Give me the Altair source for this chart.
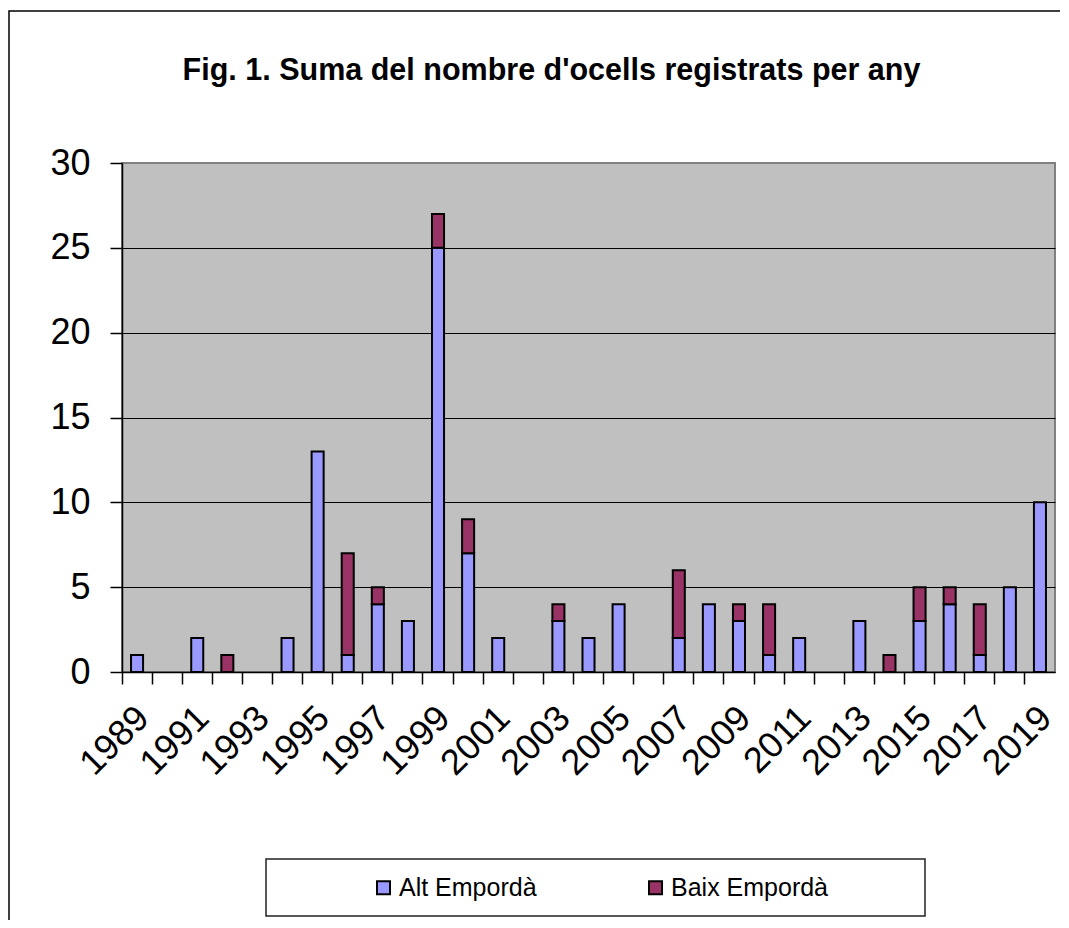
import altair as alt
import pandas as pd

years = ["1989", "1990", "1991", "1992", "1993", "1994", "1995", "1996", "1997", "1998",
         "1999", "2000", "2001", "2002", "2003", "2004", "2005", "2006", "2007", "2008",
         "2009", "2010", "2011", "2012", "2013", "2014", "2015", "2016", "2017", "2018", "2019"]
alt_emporda = [1, 0, 2, 0, 0, 2, 13, 1, 4, 3, 25, 7, 2, 0, 3, 2, 4, 0, 2, 4, 3, 1, 2, 0, 3, 0, 3, 4, 1, 5, 10]
baix_emporda = [0, 0, 0, 1, 0, 0, 0, 6, 1, 0, 2, 2, 0, 0, 1, 0, 0, 0, 4, 0, 1, 3, 0, 0, 0, 1, 2, 1, 3, 0, 0]
series_names = ["Alt Empordà", "Baix Empordà"]
series_colors = ["#9999FF", "#993366"]
title_text = "Fig. 1. Suma del nombre d'ocells registrats per any"

rows = []
for i, y in enumerate(years):
    for k, vals in enumerate([alt_emporda, baix_emporda]):
        if vals[i] > 0:
            rows.append({"year": y, "series": series_names[k], "value": vals[i], "ord": k})
df = pd.DataFrame(rows)

FONT = "Liberation Sans"

bars = alt.Chart(df).mark_bar(
    stroke="black", strokeWidth=2, width=alt.RelativeBandSize(0.4)
).encode(
    x=alt.X("year:O", sort=years,
            scale=alt.Scale(domain=years, paddingInner=0, paddingOuter=0),
            axis=alt.Axis(title=None, bandPosition=0, labelAngle=-45,
                          labelAlign="right", labelBaseline="middle",
                          labelFontSize=36, labelFont=FONT, labelColor="black",
                          labelOffset=6, labelPadding=28,
                          labelExpr="toNumber(datum.value) % 2 == 1 ? datum.label : ''",
                          labelOverlap=False,
                          tickSize=12, tickColor="black", tickWidth=1.5,
                          domainColor="black", domainWidth=1.5, grid=False)),
    y=alt.Y("value:Q", stack="zero",
            scale=alt.Scale(domain=[0, 30], nice=False),
            axis=alt.Axis(title=None, values=[0, 5, 10, 15, 20, 25, 30],
                          labelFontSize=36, labelFont=FONT, labelColor="black",
                          labelPadding=20, tickSize=12, tickColor="black", tickWidth=1.5,
                          domainColor="black", domainWidth=1.5,
                          grid=True, gridWidth=1.2,
                          gridColor={"condition": {"test": "datum.value >= 30", "value": "#808080"},
                                     "value": "black"})),
    color=alt.Color("series:N",
                    scale=alt.Scale(domain=series_names, range=series_colors),
                    legend=alt.Legend(title=None, orient="none", legendX=249, legendY=712,
                                      direction="horizontal", symbolType="square",
                                      symbolSize=169, symbolStrokeColor="black",
                                      symbolStrokeWidth=2, symbolOpacity=1,
                                      labelFontSize=25, labelFont=FONT, labelColor="black",
                                      labelOffset=3, columnPadding=106, padding=0)),
    order=alt.Order("ord:Q", sort="ascending"),
)

one = pd.DataFrame({"d": [0]})
frame = alt.Chart(one).mark_rect(fillOpacity=0, stroke="black", strokeWidth=1.5).encode(
    x=alt.value(-113), x2=alt.value(1100), y=alt.value(-152), y2=alt.value(1000))
legend_box = alt.Chart(one).mark_rect(fill="white", stroke="#222222", strokeWidth=1.5).encode(
    x=alt.value(144), x2=alt.value(803), y=alt.value(696), y2=alt.value(753))
title = alt.Chart(one).mark_text(
    text=title_text, font=FONT, fontSize=30.5, fontWeight="bold", color="black",
    align="center", baseline="alphabetic"
).encode(x=alt.value(429.5), y=alt.value(-83))

chart = alt.layer(frame, legend_box, title, bars).properties(
    width=933, height=509,
    padding={"left": 114, "top": 155, "right": 5, "bottom": 248},
    autosize=alt.AutoSizeParams(type="none"),
    background="white",
).configure_view(
    fill="#C0C0C0", stroke="#808080", strokeWidth=2
)

chart.save("out.html", embed_options={"renderer": "svg", "actions": False})
